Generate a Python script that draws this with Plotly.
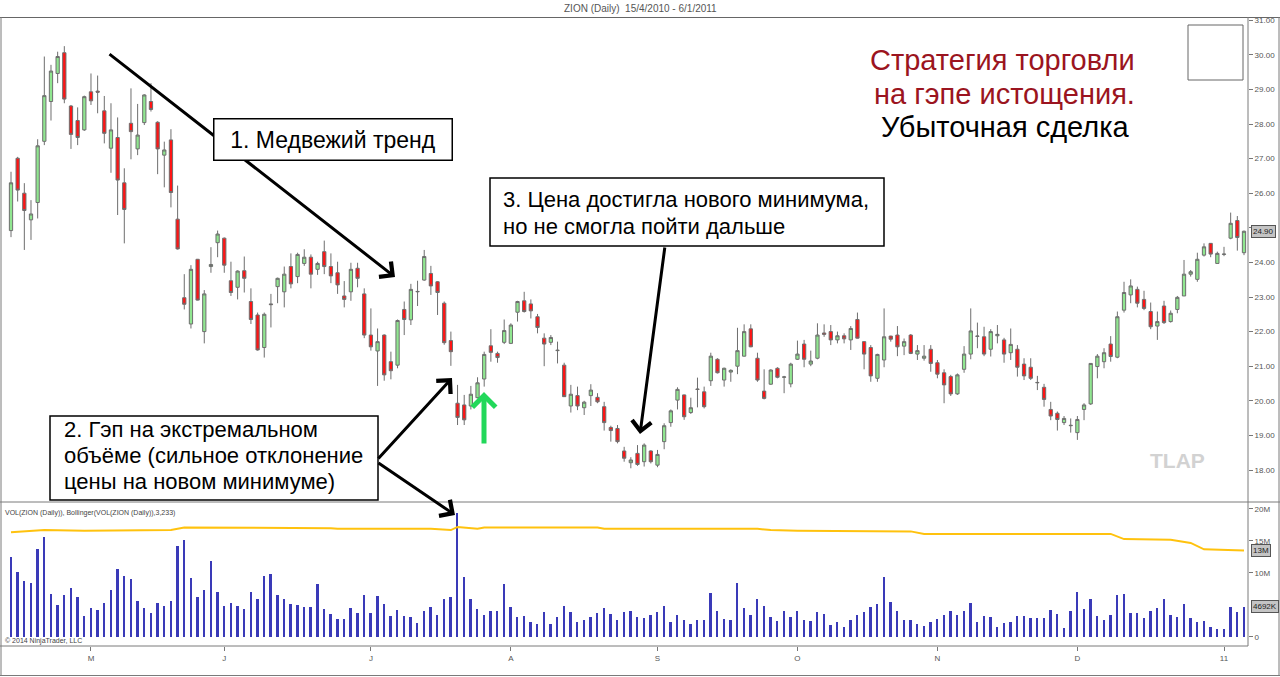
import pandas as pd
import plotly.graph_objects as go
from plotly.subplots import make_subplots

# ---------------- data ----------------
holidays = ["2010-05-31", "2010-07-05", "2010-09-06", "2010-11-25", "2010-12-24"]
dates = [d.strftime("%Y-%m-%d") for d in pd.bdate_range("2010-04-15", "2011-01-06")
         if d.strftime("%Y-%m-%d") not in holidays]

opens = [24.92, 27.01, 26.00, 25.23, 25.73, 27.50, 28.65, 29.46, 30.06, 28.52,
         28.10, 27.83, 28.93, 28.95, 28.38, 27.30, 27.61, 26.30, 28.02, 27.28,
         28.04, 28.65, 28.05, 27.10, 27.54, 25.25, 22.98, 22.22, 24.09, 22.00,
         23.88, 24.57, 24.70, 23.47, 23.28, 23.76, 22.87, 22.48, 21.54, 22.80,
         23.30, 23.15, 23.88, 23.59, 23.97, 24.15, 23.80, 24.31, 23.88, 23.70,
         23.03, 23.15, 23.83, 23.09, 21.90, 21.44, 21.90, 21.13, 21.03, 22.64,
         22.34, 23.15, 23.49, 23.68, 23.44, 22.82, 21.74, 19.93, 19.88, 19.85,
         20.09, 20.63, 21.59, 21.37, 21.69, 21.66, 22.56, 22.89, 22.80, 22.43,
         21.81, 21.69, 21.45, 21.03, 19.85, 20.15, 19.80, 20.15, 20.10, 19.83,
         19.23, 19.20, 18.55, 18.21, 18.48, 18.24, 18.55, 18.14, 18.82, 19.37,
         20.02, 20.17, 19.66, 20.34, 20.26, 20.58, 21.20, 20.60, 20.83, 21.00,
         21.29, 22.08, 21.23, 20.28, 20.48, 20.94, 20.68, 20.49, 21.20, 21.64,
         21.06, 21.23, 21.96, 22.00, 21.76, 21.88, 21.76, 22.35, 21.71, 21.54,
         20.65, 21.18, 21.87, 21.90, 21.58, 21.90, 21.35, 21.23, 21.49, 21.10,
         20.81, 20.70, 20.20, 20.91, 21.35, 21.86, 21.85, 21.49, 21.88, 21.76,
         21.39, 21.49, 21.06, 20.97, 20.52, 20.39, 19.75, 19.64, 19.37, 19.28,
         19.08, 19.75, 19.91, 20.99, 21.13, 21.64, 21.26, 22.62, 23.06, 23.22,
         22.93, 22.58, 22.16, 22.74, 22.29, 22.64, 23.03, 23.66, 23.51, 24.21,
         24.55, 23.97, 24.23, 24.70, 25.21, 24.28]
highs = [26.62, 27.05, 26.29, 25.80, 27.56, 29.95, 29.71, 30.09, 30.25, 28.55,
         28.48, 28.82, 29.46, 29.40, 28.81, 28.60, 28.19, 26.72, 29.03, 28.58,
         28.86, 29.18, 28.08, 27.49, 27.85, 26.22, 23.66, 23.92, 24.10, 23.20,
         24.44, 24.92, 24.72, 24.02, 23.77, 24.17, 23.25, 22.55, 22.55, 23.09,
         23.56, 23.88, 24.26, 24.28, 24.38, 24.23, 24.02, 24.63, 24.26, 24.02,
         23.46, 23.99, 23.99, 23.25, 22.67, 22.09, 21.92, 21.42, 22.35, 22.87,
         23.38, 23.47, 24.36, 23.90, 23.46, 22.87, 22.00, 20.46, 20.17, 20.43,
         20.68, 21.42, 22.07, 21.42, 22.35, 22.24, 22.89, 23.15, 22.93, 22.51,
         21.95, 21.90, 21.71, 21.10, 20.46, 20.41, 20.00, 20.48, 20.22, 19.97,
         19.28, 19.30, 18.67, 18.37, 18.72, 18.77, 18.57, 18.58, 19.35, 19.75,
         20.39, 20.18, 20.09, 20.67, 20.41, 21.39, 21.23, 20.96, 20.91, 22.11,
         22.21, 22.21, 21.39, 20.91, 20.91, 20.97, 20.72, 21.10, 21.74, 21.76,
         21.45, 22.24, 22.21, 22.19, 22.00, 21.95, 22.16, 22.55, 21.72, 21.61,
         21.36, 22.67, 21.88, 22.16, 21.80, 21.93, 21.61, 21.61, 21.61, 21.18,
         20.91, 20.75, 20.79, 21.58, 22.67, 22.26, 22.14, 22.07, 22.19, 21.82,
         22.09, 21.61, 21.23, 21.23, 20.72, 20.49, 19.97, 19.69, 19.56, 19.49,
         19.56, 19.93, 21.09, 21.35, 21.52, 21.87, 22.58, 23.44, 23.51, 23.30,
         23.18, 22.84, 22.58, 22.89, 22.61, 23.03, 24.07, 23.78, 24.28, 24.55,
         24.56, 24.31, 24.45, 25.44, 25.34, 24.92]
lows = [24.73, 25.76, 24.36, 24.65, 25.27, 27.39, 28.10, 29.18, 28.60, 27.28,
        27.39, 27.80, 28.55, 28.31, 27.44, 26.59, 25.37, 24.55, 26.98, 27.10,
        27.97, 28.36, 26.55, 26.17, 25.59, 24.37, 22.64, 22.09, 22.90, 21.66,
        23.70, 24.15, 23.70, 23.03, 22.93, 23.13, 22.22, 21.45, 21.25, 22.12,
        22.82, 22.70, 23.25, 23.40, 23.90, 23.25, 23.64, 23.66, 23.40, 23.09,
        22.70, 22.89, 23.28, 21.81, 21.45, 20.43, 20.58, 20.62, 20.94, 21.90,
        22.19, 22.74, 23.47, 23.06, 22.48, 21.62, 21.01, 19.30, 19.30, 19.75,
        20.07, 20.41, 21.13, 21.10, 21.64, 21.64, 22.29, 22.55, 22.38, 21.95,
        21.00, 21.61, 21.08, 20.11, 19.66, 19.73, 19.59, 19.85, 19.93, 19.14,
        18.82, 18.77, 18.24, 18.05, 18.12, 18.10, 18.19, 18.08, 18.60, 19.25,
        19.75, 19.45, 19.62, 19.81, 19.78, 20.43, 20.79, 20.41, 20.55, 20.77,
        21.28, 21.55, 20.55, 20.04, 20.46, 20.65, 20.22, 20.39, 21.18, 20.97,
        21.00, 21.20, 21.85, 21.61, 21.66, 21.66, 21.47, 21.80, 20.91, 20.55,
        20.55, 20.97, 21.71, 21.29, 21.32, 21.35, 21.18, 21.16, 20.84, 20.65,
        19.93, 20.14, 20.17, 20.81, 21.20, 21.52, 21.29, 21.28, 21.66, 21.10,
        21.18, 20.70, 20.60, 20.60, 20.31, 19.83, 19.44, 19.14, 19.30, 19.08,
        18.87, 19.44, 19.88, 20.65, 20.94, 21.13, 21.23, 22.55, 22.82, 22.70,
        22.62, 22.07, 21.76, 22.22, 22.26, 22.53, 23.03, 23.59, 23.44, 24.17,
        24.15, 23.97, 24.18, 24.67, 24.34, 24.21]
closes = [26.30, 26.09, 25.50, 25.40, 27.37, 28.82, 29.53, 29.95, 28.72, 27.70,
          27.61, 28.79, 28.67, 28.92, 27.73, 27.83, 26.38, 25.53, 27.78, 27.68,
          28.84, 28.42, 27.28, 27.25, 26.02, 24.39, 22.79, 23.80, 22.91, 23.09,
          23.94, 24.82, 23.92, 23.13, 23.75, 23.54, 22.35, 21.47, 22.50, 22.78,
          23.54, 23.66, 23.38, 24.23, 24.15, 23.66, 23.97, 23.88, 23.61, 23.35,
          22.93, 23.80, 23.54, 21.90, 21.56, 21.71, 20.75, 20.87, 22.32, 22.35,
          23.22, 23.16, 24.17, 23.32, 23.13, 21.68, 21.42, 19.52, 19.45, 20.19,
          20.52, 21.34, 21.40, 21.25, 22.03, 22.19, 22.87, 22.58, 22.60, 22.12,
          21.64, 21.83, 21.46, 20.12, 20.19, 19.85, 19.96, 20.31, 19.97, 19.37,
          19.14, 18.82, 18.34, 18.29, 18.16, 18.72, 18.24, 18.45, 19.28, 19.71,
          20.33, 19.54, 19.80, 20.33, 19.83, 21.29, 20.81, 20.94, 20.88, 21.45,
          22.00, 21.56, 20.60, 20.07, 20.89, 20.68, 20.69, 21.06, 21.35, 21.20,
          21.15, 21.90, 21.92, 21.76, 21.88, 21.79, 22.09, 21.81, 21.35, 20.72,
          21.34, 21.85, 21.78, 21.56, 21.71, 21.37, 21.45, 21.29, 21.08, 20.77,
          20.46, 20.20, 20.75, 21.35, 22.02, 21.87, 21.35, 22.00, 21.92, 21.35,
          21.63, 20.97, 20.72, 20.65, 20.53, 20.04, 19.56, 19.46, 19.49, 19.29,
          19.46, 19.88, 21.08, 21.29, 21.39, 21.28, 22.43, 23.13, 23.32, 22.82,
          22.67, 22.14, 22.29, 22.26, 22.53, 22.99, 23.66, 23.73, 24.09, 24.45,
          24.24, 24.26, 24.24, 25.13, 24.72, 24.90]

# daily volume, millions of shares
volume_m = [12.55, 10.2, 8.8, 8.4, 13.7, 15.7, 6.7, 5.0, 6.6, 7.6,
            6.2, 3.3, 4.6, 4.2, 5.3, 7.4, 10.6, 9.6, 9.1, 5.7,
            4.6, 3.8, 5.3, 4.8, 5.7, 14.2, 15.1, 9.2, 6.2, 7.3,
            11.9, 7.0, 4.9, 5.3, 4.8, 4.4, 7.1, 5.9, 9.5, 9.8,
            6.6, 5.9, 5.1, 5.0, 4.7, 4.7, 8.3, 4.4, 3.6, 2.8,
            2.8, 4.5, 3.8, 6.6, 3.7, 6.4, 5.2, 3.3, 4.2, 3.3,
            3.1, 2.2, 4.0, 4.7, 3.4, 5.9, 6.2, 19.3, 9.4, 5.9,
            4.3, 3.4, 4.1, 4.1, 8.3, 4.7, 3.1, 3.3, 2.4, 2.1,
            3.9, 2.0, 3.1, 4.8, 3.9, 2.4, 2.6, 3.1, 3.8, 4.5,
            3.6, 2.7, 3.9, 4.1, 3.2, 3.0, 3.4, 3.9, 4.8, 2.4,
            3.5, 2.6, 2.1, 2.7, 2.7, 6.8, 4.0, 2.8, 2.6, 8.5,
            4.5, 3.4, 5.9, 4.9, 3.1, 2.5, 4.0, 3.2, 4.1, 2.7,
            2.5, 3.9, 3.6, 1.8, 2.4, 1.5, 2.7, 3.5, 3.9, 4.7,
            5.1, 9.3, 5.4, 4.1, 2.7, 2.6, 2.0, 1.7, 2.3, 2.8,
            3.4, 4.0, 3.5, 4.1, 5.3, 2.3, 3.3, 3.1, 1.6, 2.2,
            2.4, 3.3, 3.3, 3.0, 3.0, 2.9, 4.2, 3.6, 1.4, 4.0,
            7.0, 4.3, 5.9, 3.3, 2.7, 3.4, 6.6, 6.7, 3.7, 3.7,
            3.0, 4.1, 4.6, 5.9, 3.4, 3.1, 5.2, 2.9, 2.4, 2.5,
            1.6, 1.2, 1.3, 4.7, 3.9, 4.692]

# upper Bollinger band of volume (bar index, millions)
band_bar = [0, 5, 11, 24, 26, 33, 37, 39, 48, 49, 63, 66, 67, 70, 71, 88, 89,
            112, 114, 118, 135, 137, 165, 167, 174, 177, 179, 185]
band_val_m = [16.35, 16.7, 16.6, 16.7, 17.1, 17.1, 17.0, 17.1, 17.0, 16.9, 16.9, 16.7,
              17.2, 16.9, 17.1, 17.1, 16.9, 16.9, 16.7, 16.6, 16.5, 16.1, 16.1,
              15.3, 15.2, 14.7, 13.7, 13.5]

month_ticks = ["2010-05-03", "2010-06-01", "2010-07-01", "2010-08-02", "2010-09-01",
               "2010-10-01", "2010-11-01", "2010-12-01", "2011-01-03"]
month_text = ["M", "J", "J", "A", "S", "O", "N", "D", "11"]

price_ticks = list(range(18, 32))
price_text = ["" if v == 25 else f"{v:.2f}" for v in price_ticks]  # 25.00 hidden by last-price tag
vol_ticks = [0, 10e6, 15e6, 20e6]
vol_text = ["0", "10M", "15M", "20M"]

# ---------------- layout helpers ----------------
W, H = 1280, 677
L, R, T, B = 2, 32, 17, 31
PW, PH = W - L - R, H - T - B


def PX(x):
    return (x - L) / PW


def PY(y):
    return (H - B - y) / PH


FONT = "Liberation Sans, Arial, sans-serif"
split = PY(502)

fig = make_subplots(rows=2, cols=1, shared_xaxes=True, vertical_spacing=0,
                    row_heights=[1 - split, split])

fig.add_trace(go.Candlestick(
    x=dates, open=opens, high=highs, low=lows, close=closes,
    increasing=dict(line=dict(color="#6e6e6e", width=1), fillcolor="#90e690"),
    decreasing=dict(line=dict(color="#6e6e6e", width=1), fillcolor="#ff1414"),
    whiskerwidth=0, showlegend=False, hoverinfo="skip"), row=1, col=1)

fig.add_trace(go.Bar(
    x=dates, y=[v * 1e6 for v in volume_m], width=0.28,
    marker=dict(color="#3a3ab8", line=dict(width=0)),
    showlegend=False, hoverinfo="skip"), row=2, col=1)

fig.add_trace(go.Scatter(
    x=[dates[i] for i in band_bar], y=[v * 1e6 for v in band_val_m],
    mode="lines", line=dict(color="#ffc20e", width=2),
    showlegend=False, hoverinfo="skip"), row=2, col=1)

xr = [-1.35, len(dates) - 0.4]
fig.update_xaxes(type="category", range=xr, showgrid=False, zeroline=False,
                 rangeslider_visible=False, showline=False)
fig.update_xaxes(showticklabels=False, ticks="", row=1, col=1)
fig.update_xaxes(tickmode="array", tickvals=month_ticks, ticktext=month_text,
                 ticks="outside", ticklen=4, tickcolor="#777",
                 tickfont=dict(family=FONT, size=8, color="#555"), row=2, col=1)

fig.update_yaxes(domain=[split, 1], range=[18 - 32 / 34.6, 18 + 453 / 34.6],
                 side="right", showgrid=False, zeroline=False, showline=False,
                 tickmode="array", tickvals=price_ticks, ticktext=price_text,
                 ticks="outside", ticklen=4, tickcolor="#777",
                 tickfont=dict(family=FONT, size=8, color="#555"), row=1, col=1)
fig.update_yaxes(domain=[0, split], range=[-1.41e6, 21.09e6],
                 side="right", showgrid=False, zeroline=False, showline=False,
                 tickmode="array", tickvals=vol_ticks, ticktext=vol_text,
                 ticks="outside", ticklen=4, tickcolor="#777",
                 tickfont=dict(family=FONT, size=8, color="#555"), row=2, col=1)

grey = "#7a7a7a"
shapes = []


def line(x0, y0, x1, y1, color=grey, width=1):
    shapes.append(dict(type="line", xref="paper", yref="paper",
                       x0=PX(x0), y0=PY(y0), x1=PX(x1), y1=PY(y1),
                       line=dict(color=color, width=width)))


def rect(x0, y0, x1, y1, color, width, fill="rgba(0,0,0,0)"):
    shapes.append(dict(type="rect", xref="paper", yref="paper", layer="above",
                       x0=PX(x0), x1=PX(x1), y0=PY(y1), y1=PY(y0),
                       line=dict(color=color, width=width), fillcolor=fill))


line(0, 17.5, 1280, 17.5, "#666")          # top frame
line(1, 17, 1, 676, grey)                  # left frame
line(1279, 17, 1279, 676, grey)            # right frame
line(0, 675.5, 1280, 675.5, grey)          # bottom frame
line(0, 502, 1280, 502, grey)              # panel divider
line(1248, 17, 1248, 646, grey)            # value axis
line(0, 646, 1248, 646, grey)              # time axis
rect(1188, 25, 1243, 80, "#666", 1)        # empty box top right
rect(50, 416, 378, 500, "black", 1.5, "white")   # note 2 box
rect(490, 178, 884, 246, "black", 1.5, "white")  # note 3 box

ann = []


def arrow(tx, ty, sx, sy, color="black", width=3, size=1.25):
    ann.append(dict(x=PX(tx), y=PY(ty), xref="paper", yref="paper",
                    ax=sx - tx, ay=sy - ty, axref="pixel", ayref="pixel",
                    text="", showarrow=True, arrowhead=4, arrowsize=size,
                    arrowwidth=width, arrowcolor=color, standoff=0, startstandoff=0))


def label(x, y, text, size, color="#444", xanchor="left", yanchor="middle", bold=False):
    ann.append(dict(x=PX(x), y=PY(y), xref="paper", yref="paper", xanchor=xanchor,
                    yanchor=yanchor, showarrow=False,
                    text=f"<b>{text}</b>" if bold else text,
                    font=dict(family=FONT, size=size, color=color)))


# arrows
arrow(395, 277, 108, 53)
arrow(452, 378, 377, 460)
arrow(455, 515, 377, 462)
arrow(640, 434, 665, 246)
arrow(484, 392, 484, 445, color="#22d85a", width=5, size=0.9)

# note 1 (box drawn over the trend arrow)
ann.append(dict(x=PX(213), y=PY(118), xref="paper", yref="paper",
                xanchor="left", yanchor="top", text="1. Медвежий тренд", showarrow=False,
                align="center", valign="middle", width=229, height=32, borderpad=4,
                bgcolor="white", bordercolor="black", borderwidth=1.5,
                font=dict(family=FONT, size=23, color="black")))

# note 2 and note 3 text lines
for yy, t in zip([430, 455.5, 481], ["2. Гэп на экстремальном", "объёме (сильное отклонение",
                                     "цены на новом минимуме)"]):
    label(62, yy, t, 22, "black")
for yy, t in zip([199, 226], ["3. Цена достигла нового минимума,",
                              "но не смогла пойти дальше"]):
    label(501, yy, t, 22, "black")

# headline
label(1137, 60, "Стратегия торговли", 29, "#9b1420", "right")
label(1137, 94, "на гэпе истощения.", 29, "#9b1420", "right")
label(1132, 127, "Убыточная сделка", 29, "black", "right")

# misc texts
label(640, 8, "ZION (Daily)  15/4/2010 - 6/1/2011", 10, "#555", "center")
label(1177, 461, "TLAP", 21, "#d2d2d2", "center", bold=True)
label(3, 513, "VOL(ZION (Daily)), Bollinger(VOL(ZION (Daily)),3,233)", 7, "#444")
label(3, 641, "© 2014 NinjaTrader, LLC", 7, "#444")

# last value markers on the right axis
for yref, yval, txt in [("y", closes[-1], f"{closes[-1]:.2f}"),
                        ("y2", band_val_m[-1] * 1e6, f"{int(band_val_m[-1]):d}M"),
                        ("y2", volume_m[-1] * 1e6, f"{round(volume_m[-1] * 1000):d}K")]:
    ann.append(dict(x=PX(1251), y=yval, xref="paper", yref=yref, xanchor="left",
                    yanchor="middle", text=txt, showarrow=False, bgcolor="#c4c4c4",
                    bordercolor="#555", borderwidth=1, borderpad=1,
                    font=dict(family=FONT, size=8, color="#222")))

fig.update_layout(width=W, height=H, margin=dict(l=L, r=R, t=T, b=B),
                  paper_bgcolor="white", plot_bgcolor="white",
                  shapes=shapes, annotations=ann, showlegend=False,
                  bargap=0)

fig.write_html("out.html")
